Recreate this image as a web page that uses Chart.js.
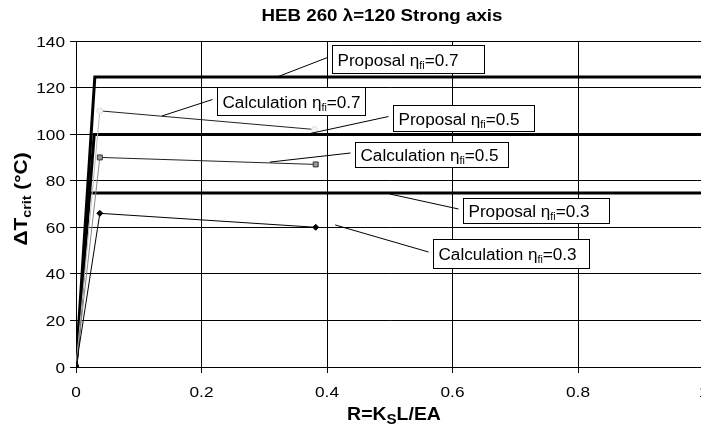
<!DOCTYPE html>
<html>
<head>
<meta charset="utf-8">
<script src="https://cdn.jsdelivr.net/npm/chart.js@4/dist/chart.umd.min.js"></script>
<style>
  html, body { margin: 0; padding: 0; background: #fff; overflow: hidden; }
  canvas { display: block; }
</style>
</head>
<body>
<canvas id="chart" width="730" height="428"></canvas>
<script>
// Critical temperature increase vs. axial restraint ratio R
const rProp07 = [0, 0.030, 1];
const tProp07 = [0, 124.5, 124.5];
const rProp05 = [0, 0.029, 1];
const tProp05 = [0, 99.8, 99.8];
const rProp03 = [0, 0.021, 1];
const tProp03 = [0, 74.7, 74.7];

const rCalc07 = [0, 0.038, 0.380];
const tCalc07 = [0, 110, 102];
const rCalc05 = [0, 0.038, 0.382];
const tCalc05 = [0, 90, 87];
const rCalc03 = [0, 0.038, 0.382];
const tCalc03 = [0, 66, 60];

// callout boxes: label, eta, box top-left (data units), leader target (data units)
const calloutNames = ['Proposal', 'Calculation', 'Proposal', 'Calculation', 'Proposal', 'Calculation'];
const calloutEta   = ['0.7', '0.7', '0.5', '0.5', '0.3', '0.3'];
const calloutBoxR  = [0.408, 0.225, 0.505, 0.445, 0.617, 0.569];
const calloutBoxT  = [138.4, 120.2, 112.5, 96.6, 72.6, 55.0];
const calloutTgtR  = [0.320, 0.137, 0.365, 0.309, 0.500, 0.413];
const calloutTgtT  = [124.5, 107.8, 99.8, 88.0, 74.3, 61.0];

// box sizes in px
const BOX_W = [152, 148, 141, 153, 146, 156];
const BOX_H = [28, 28, 26, 25, 25, 29];

const FONT = '"Liberation Sans", Arial, sans-serif';
const pts = (xs, ys) => xs.map((x, i) => ({ x, y: ys[i] }));

// draws a run of text pieces (base / subscript) with a horizontal stretch
function richText(ctx, parts, x, y, align, sx) {
  let w = 0;
  parts.forEach(p => { ctx.font = p.font; w += ctx.measureText(p.t).width; });
  w *= sx;
  let x0 = align === 'center' ? x - w / 2 : align === 'right' ? x - w : x;
  ctx.save();
  ctx.translate(x0, y);
  ctx.scale(sx, 1);
  ctx.textBaseline = 'alphabetic';
  ctx.textAlign = 'left';
  ctx.fillStyle = '#000';
  let cx = 0;
  parts.forEach(p => {
    ctx.font = p.font;
    ctx.fillText(p.t, cx, p.dy || 0);
    cx += ctx.measureText(p.t).width;
  });
  ctx.restore();
  return w;
}

const textPlugin = {
  id: 'textPlugin',
  afterDatasetsDraw(chart) {
    const { ctx, scales: { x, y } } = chart;
    // callouts with leader lines
    calloutNames.forEach((name, i) => {
      const parts = [
        { t: name + ' ', font: '16px ' + FONT },
        { t: 'η', font: '16px ' + FONT },
        { t: 'fi', font: '10px ' + FONT, dy: 3 },
        { t: '=' + calloutEta[i], font: '16px ' + FONT },
      ];
      const bx = Math.round(x.getPixelForValue(calloutBoxR[i])) + 0.5;
      const by = Math.round(y.getPixelForValue(calloutBoxT[i])) + 0.5;
      const bw = BOX_W[i], bh = BOX_H[i];
      const tx = x.getPixelForValue(calloutTgtR[i]);
      const ty = y.getPixelForValue(calloutTgtT[i]);
      ctx.save();
      ctx.strokeStyle = '#000';
      ctx.lineWidth = 1;
      ctx.beginPath();
      ctx.moveTo(bx - 5, by + bh / 2 - 2);
      ctx.lineTo(tx, ty);
      ctx.stroke();
      ctx.fillStyle = '#fff';
      ctx.fillRect(bx, by, bw, bh);
      ctx.strokeRect(bx, by, bw, bh);
      ctx.restore();
      richText(ctx, parts, bx + 5, by + bh / 2 + 6, 'left', 1.07);
    });
  },
  afterDraw(chart) {
    const { ctx, scales: { x, y } } = chart;
    const tickFont = '15px ' + FONT;
    y.ticks.forEach(t => {
      richText(ctx, [{ t: String(t.value), font: tickFont }], 65, y.getPixelForValue(t.value) + 5.5, 'right', 1.15);
    });
    x.ticks.forEach(t => {
      richText(ctx, [{ t: String(+t.value.toFixed(1)), font: tickFont }], x.getPixelForValue(t.value), 397, 'center', 1.15);
    });
    // chart title
    richText(ctx, [{ t: 'HEB 260 λ=120 Strong axis', font: 'bold 16px ' + FONT }], 382, 21, 'center', 1.17);
    // x axis title
    richText(ctx, [
      { t: 'R=K', font: 'bold 18px ' + FONT },
      { t: 'S', font: 'bold 14px ' + FONT, dy: 4 },
      { t: 'L/EA', font: 'bold 18px ' + FONT },
    ], 394, 420, 'center', 1.08);
    // y axis title
    ctx.save();
    ctx.translate(27, 199);
    ctx.rotate(-Math.PI / 2);
    richText(ctx, [
      { t: 'ΔT', font: 'bold 19px ' + FONT },
      { t: 'crit', font: 'bold 13px ' + FONT, dy: 4 },
      { t: ' (°C)', font: 'bold 19px ' + FONT },
    ], 0, 0, 'center', 1.1);
    ctx.restore();
  },
};

const thick = { showLine: true, borderColor: '#000', borderWidth: 3, pointRadius: 0, fill: false };

new Chart(document.getElementById('chart'), {
  type: 'scatter',
  data: {
    datasets: [
      { label: 'Calculation ηfi=0.3', data: pts(rCalc03, tCalc03), showLine: true,
        borderColor: '#000', borderWidth: 1, pointStyle: 'rectRot', pointRadius: 3,
        pointBackgroundColor: '#000', pointBorderColor: '#000' },
      { label: 'Calculation ηfi=0.5', data: pts(rCalc05, tCalc05), showLine: true,
        borderColor: '#222', borderWidth: 1, pointStyle: 'rect', pointRadius: 3.5,
        pointBackgroundColor: '#999', pointBorderColor: '#333',
        segment: { borderColor: c => c.p0DataIndex === 0 ? '#888' : '#222' } },
      { label: 'Calculation ηfi=0.7', data: pts(rCalc07, tCalc07), showLine: true,
        borderColor: '#222', borderWidth: 1, pointStyle: 'circle', pointRadius: 3,
        pointBackgroundColor: '#f4f4f4', pointBorderColor: '#ddd',
        segment: { borderColor: c => c.p0DataIndex === 0 ? '#bbb' : '#222' } },
      { label: 'Proposal ηfi=0.3', data: pts(rProp03, tProp03), ...thick },
      { label: 'Proposal ηfi=0.5', data: pts(rProp05, tProp05), ...thick },
      { label: 'Proposal ηfi=0.7', data: pts(rProp07, tProp07), ...thick },
    ],
  },
  options: {
    responsive: false,
    animation: false,
    devicePixelRatio: 1,
    layout: { padding: { left: 0, top: 41, right: 26.5, bottom: 0 } },
    plugins: { legend: { display: false }, tooltip: { enabled: false }, title: { display: false } },
    elements: { line: { tension: 0 } },
    scales: {
      x: {
        type: 'linear', min: 0, max: 1,
        ticks: { display: false, stepSize: 0.2 },
        grid: { color: '#000', lineWidth: 1, drawTicks: true, tickLength: 6 },
        border: { color: '#000', width: 1 },
        afterFit: s => { s.height = 61; },
      },
      y: {
        type: 'linear', min: 0, max: 140,
        ticks: { display: false, stepSize: 20 },
        grid: { color: '#000', lineWidth: 1, drawTicks: true, tickLength: 6 },
        border: { color: '#000', width: 1 },
        afterFit: s => { s.width = 76; },
      },
    },
  },
  plugins: [textPlugin],
});
</script>
</body>
</html>
